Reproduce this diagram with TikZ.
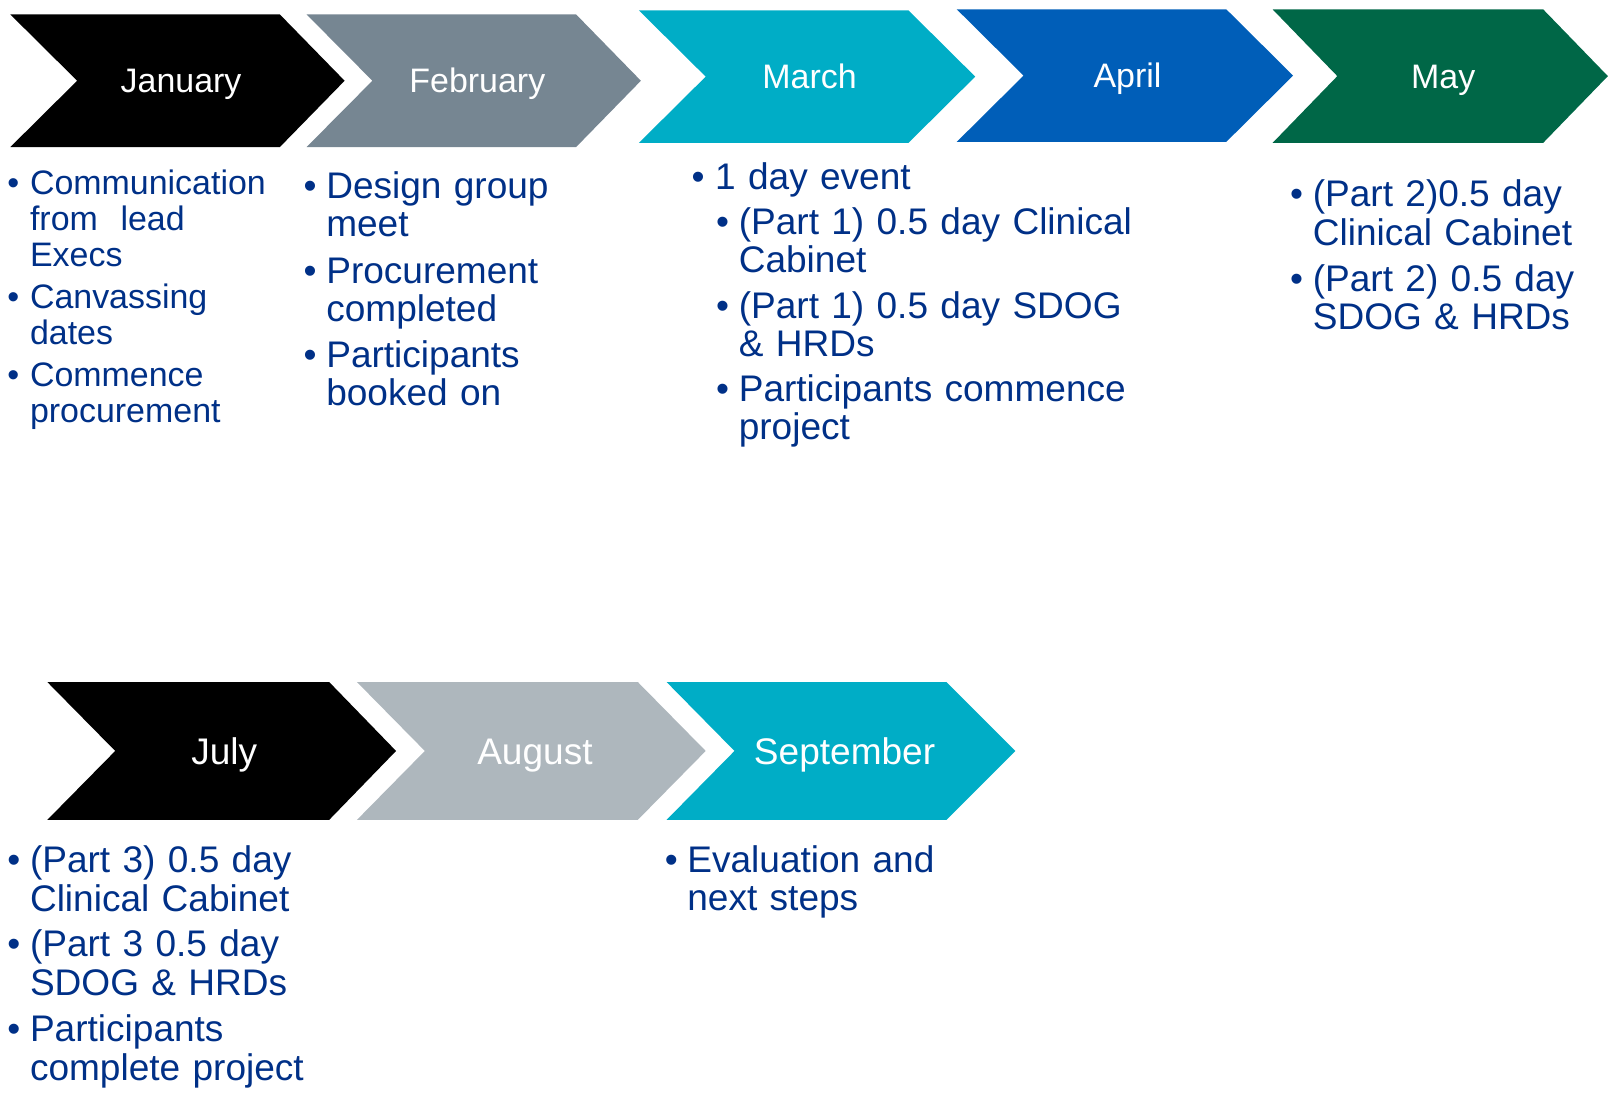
\documentclass[tikz,border=0pt]{standalone}
\usepackage{fontspec}
\setmainfont{Liberation Sans}
\usetikzlibrary{positioning}
\definecolor{jetblack}{HTML}{000000}
\definecolor{midgrey}{HTML}{768692}
\definecolor{aqua}{HTML}{00ADC6}
\definecolor{nhsblue}{HTML}{005EB8}
\definecolor{darkgreen}{HTML}{006747}
\definecolor{palegrey}{HTML}{AEB7BD}
\definecolor{navyblue}{HTML}{003087}
\newlength{\bindent}
\setlength{\bindent}{19pt}
\newcommand{\bitem}[1]{\par\hangindent=\bindent\hangafter=1\noindent\makebox[\bindent][l]{\hspace{-3pt}\textbullet}#1}
\newcommand{\bsub}[1]{\par\leftskip=24pt\bitem{#1}}
% chevron: colour, left, notch, right, tip, top, bottom
\newcommand{\chevron}[7]{%
	\fill[#1] (#2,#6) -- (#4,#6) -- (#5,{(#6+#7)/2}) -- (#4,#7) -- (#2,#7) -- (#3,{(#6+#7)/2}) -- cycle;
}
\tikzset{
	% ------- every something
	every node/.style={
		inner sep=0pt,
	},
	% ------- custom
	month/.style={
		anchor=base,
		text=white,
		font=\fontsize{33}{36}\selectfont,
	},
	tasks/.style={
		anchor=north west,
		text width=#1,
		text=navyblue,
		font=\fontsize{36}{37}\selectfont,
	},
	tasks/.default=300pt,
}
\begin{document}
\begin{tikzpicture}[x=1pt, y=-1pt]

	\useasboundingbox (0,0) rectangle (1568,1064);

% chevrons, top row %{{{2

	\chevron{jetblack}{10}{75}{272}{335}{14}{143}
	\chevron{midgrey}{298}{362}{560}{623}{14}{143}
	\chevron{aqua}{621}{686}{883}{948}{10}{139}
	\chevron{nhsblue}{930}{995}{1192}{1257}{9}{138}
	\chevron{darkgreen}{1237}{1300}{1500}{1563}{9}{139}

% chevrons, bottom row %{{{2

	\chevron{jetblack}{46}{112}{320}{385}{663}{797}
	\chevron{palegrey}{347}{413}{620}{686}{663}{797}
	\chevron{aqua}{648}{714}{920}{987}{663}{797}

% month labels %{{{2

	\node[month] (jan) at (176,90) {January};
	\node[month] (feb) at (464,90) {February};
	\node[month] (mar) at (787,86) {March};
	\node[month] (apr) at (1096,85) {April};
	\node[month] (may) at (1403,86) {May};

	\node[month, font=\fontsize{36}{38}\selectfont] (jul) at (218,743) {July};
	\node[month, font=\fontsize{36}{38}\selectfont] (aug) at (520,743) {August};
	\node[month, font=\fontsize{36}{38}\selectfont] (sep) at (821,743) {September};

% task lists %{{{2

	\node[tasks=280pt, font=\fontsize{33}{35}\selectfont] (jantasks) at (10,148) {%
		\setlength{\parskip}{6pt}\raggedright
		\bitem{Communication\newline from\ \ lead\newline Execs}
		\bitem{Canvassing\newline dates}
		\bitem{Commence\newline procurement}\par};

	\node[tasks] (febtasks) at (298,148) {%
		\setlength{\parskip}{8pt}\raggedright
		\bitem{Design group\newline meet}
		\bitem{Procurement\newline completed}
		\bitem{Participants\newline booked on}\par};

	\node[tasks=460pt] (martasks) at (675,140) {%
		\setlength{\parskip}{7pt}\setlength{\bindent}{20pt}\raggedright
		\bitem{1 day event}
		\setlength{\bindent}{19pt}
		\bsub{(Part 1) 0.5 day Clinical\newline Cabinet}
		\bsub{(Part 1) 0.5 day SDOG\newline \& HRDs}
		\bsub{Participants commence\newline project}\par};

	\node[tasks] (maytasks) at (1257,156) {%
		\setlength{\parskip}{8pt}\raggedright
		\bitem{(Part 2)0.5 day\newline Clinical Cabinet}
		\bitem{(Part 2) 0.5 day\newline SDOG \& HRDs}\par};

	\node[tasks, font=\fontsize{36}{38}\selectfont] (jultasks) at (10,804) {%
		\setlength{\parskip}{6pt}\raggedright
		\bitem{(Part 3) 0.5 day\newline Clinical Cabinet}
		\bitem{(Part 3 0.5 day\newline SDOG \& HRDs}
		\bitem{Participants\newline complete project}\par};

	\node[tasks] (septasks) at (649,804) {%
		\setlength{\parskip}{7pt}\raggedright
		\bitem{Evaluation and\newline next steps}\par};

% closing %{{{2

\end{tikzpicture}
\end{document}
